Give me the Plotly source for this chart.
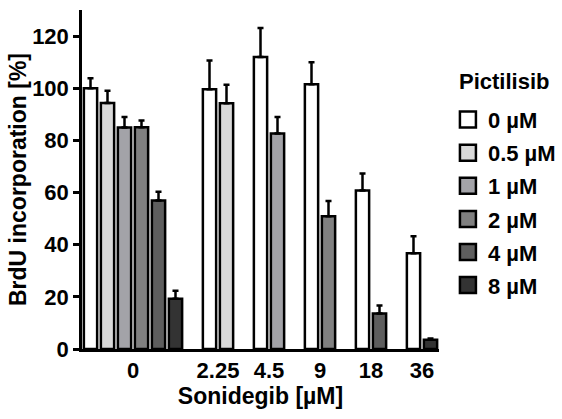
import plotly.graph_objects as go

sonidegib = ["0", "2.25", "4.5", "9", "18", "36"]
pictilisib = ["0 µM", "0.5 µM", "1 µM", "2 µM", "4 µM", "8 µM"]
legend_title = "Pictilisib"

brdu_0 = [100, 99.6, 112, 101.5, 60.8, 36.7]
brdu_05 = [94.3, 94.2, None, None, None, None]
brdu_1 = [84.9, None, 82.6, None, None, None]
brdu_2 = [85.0, None, None, 50.9, None, None]
brdu_4 = [56.9, None, None, None, 13.6, None]
brdu_8 = [19.3, None, None, None, None, 3.5]

err_0 = [3.8, 11.0, 11.1, 8.5, 6.5, 6.5]
err_05 = [4.7, 7.1, None, None, None, None]
err_1 = [4.1, None, 6.4, None, None, None]
err_2 = [2.6, None, None, 5.9, None, None]
err_4 = [3.4, None, None, None, 3.1, None]
err_8 = [3.0, None, None, None, None, 0.5]

colors = ["#ffffff", "#d9d9d9", "#a3a3a8", "#808080", "#5e5e5e", "#333333"]

series = [brdu_0, brdu_05, brdu_1, brdu_2, brdu_4, brdu_8]
errors = [err_0, err_05, err_1, err_2, err_4, err_8]

# compute slot positions: bars of a group side by side, one empty slot between groups
xpos = [[None] * len(sonidegib) for _ in series]
tickvals = []
slot = 0
for g in range(len(sonidegib)):
    start = slot
    for s in range(len(series)):
        if series[s][g] is not None:
            xpos[s][g] = slot
            slot += 1
    tickvals.append((start + slot - 1) / 2)
    slot += 1
last_slot = max(v for row in xpos for v in row if v is not None)

fig = go.Figure()
for s, name in enumerate(pictilisib):
    idx = [g for g in range(len(sonidegib)) if series[s][g] is not None]
    xs = [xpos[s][g] for g in idx]
    ys = [series[s][g] for g in idx]
    es = [errors[s][g] for g in idx]
    fig.add_trace(go.Bar(
        x=xs, y=ys, name=name, width=0.78, showlegend=False, legendgroup=name,
        marker=dict(color=colors[s], line=dict(color="black", width=2.5)),
        error_y=dict(type="data", symmetric=False, array=es, arrayminus=[0] * len(es),
                     color="black", thickness=2.5, width=3),
    ))
# legend entries (square swatches)
for s, name in enumerate(pictilisib):
    fig.add_trace(go.Scatter(
        x=[None], y=[None], mode="markers", name=name, legendgroup=name,
        marker=dict(symbol="square", size=16, color=colors[s],
                    line=dict(color="black", width=2.5)),
    ))

font_family = "Liberation Sans, Arial, sans-serif"
fig.update_layout(
    width=562, height=419,
    margin=dict(l=82, r=123, t=10, b=70, autoexpand=False),
    plot_bgcolor="white", paper_bgcolor="white",
    barmode="overlay",
    font=dict(family=font_family, size=22, color="black", weight="bold"),
    legend=dict(
        font=dict(size=22, weight="bold"),
        x=1.025, xanchor="left", y=0.738, yanchor="top",
        tracegroupgap=1.5, itemsizing="trace",
    ),
    annotations=[dict(
        text=legend_title, xref="paper", yref="paper", x=1.05, y=0.788,
        xanchor="left", yanchor="middle", showarrow=False,
        font=dict(size=22, weight="bold"),
    )],
    xaxis=dict(
        range=[-0.5, last_slot + 0.5], tickvals=tickvals, ticktext=sonidegib,
        showline=True, linecolor="black", linewidth=2.5, ticks="", ticklen=0,
        showgrid=False, zeroline=False, automargin=False,
        title=dict(text="Sonidegib [µM]", font=dict(size=23, weight="bold"), standoff=4),
        tickfont=dict(size=22, weight="bold"),
    ),
    yaxis=dict(
        range=[0, 130], tickvals=[0, 20, 40, 60, 80, 100, 120],
        showline=True, linecolor="black", linewidth=2.5,
        ticks="outside", ticklen=6, tickwidth=2.5, tickcolor="black",
        showgrid=False, zeroline=False, automargin=False,
        title=dict(text="BrdU incorporation [%]", font=dict(size=23, weight="bold"), standoff=0),
        tickfont=dict(size=22, weight="bold"),
    ),
)

fig.write_html("out.html", config={"displayModeBar": False},
               post_script="document.body.style.margin='0';")
